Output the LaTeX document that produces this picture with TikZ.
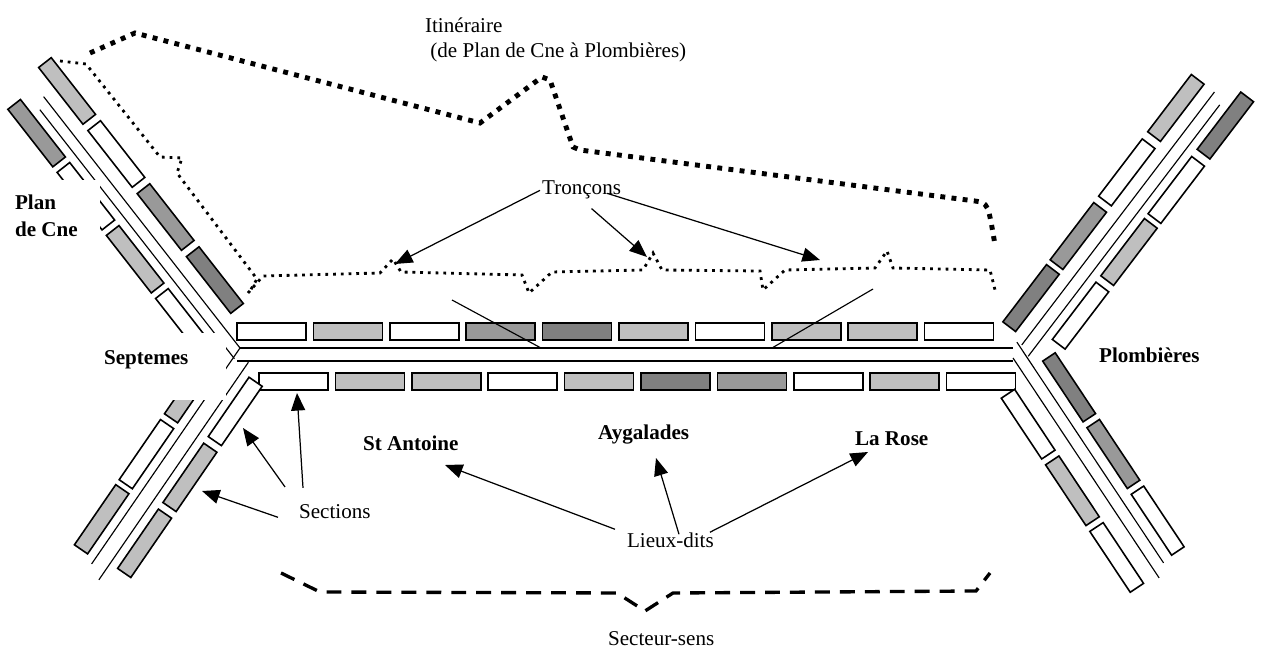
\documentclass[tikz,border=0pt]{standalone}
\usepackage{fontspec}
\setmainfont{Liberation Serif}
\usetikzlibrary{arrows.meta}
\definecolor{lightsec}{gray}{0.75}
\definecolor{midsec}{gray}{0.6}
\definecolor{darksec}{gray}{0.5}
\begin{document}
\begin{tikzpicture}[x=0.02cm,y=-0.02cm,
    road/.style={line width=0.65pt},
    secbox/.style={draw,line width=0.9pt},
    lbl/.style={font=\fontsize{12}{14}\selectfont,inner sep=1pt},
    townlbl/.style={font=\fontsize{12}{15.4}\selectfont\bfseries,inner sep=1pt},
    arr/.style={line width=0.7pt,-{Triangle[length=10pt,width=8pt]}},
    itin/.style={line width=2.8pt,dash pattern=on 2.8pt off 3.6pt},
    tron/.style={line width=1.6pt,dash pattern=on 1.6pt off 2.8pt},
    sect/.style={line width=1.9pt,dash pattern=on 8.5pt off 5.7pt}]
    \useasboundingbox (0,0) rectangle (1264,648);
    % main road and its two rows of sections
    \draw[road] (240,348) -- (1013,348);
    \draw[road] (237,361) -- (1013,361);
    \foreach \c [count=\i from 0] in {white,lightsec,white,midsec,darksec,lightsec,white,lightsec,lightsec,white}
        \draw[secbox,fill=\c] (237+76.4*\i,323) rectangle ++(69,17);
    \foreach \c [count=\i from 0] in {white,lightsec,lightsec,white,lightsec,darksec,midsec,white,lightsec,white}
        \draw[secbox,fill=\c] (259+76.4*\i,373) rectangle ++(69,17);
    \draw[road] (452,300) -- (541,348);
    \draw[road] (873,289) -- (772,348);
    % branch to Plan de Cne
    \begin{scope}[shift={(240,348)},rotate=128]
        \draw[road] (0,0) -- (319,0);
        \draw[road] (-5,-11) -- (311,-11);
        \foreach \s/\c in {33/darksec,113/midsec,193/white,273/lightsec}
            \draw[secbox,fill=\c] (\s,14) rectangle ++(72,16);
        \foreach \s/\c in {18/white,98/lightsec,178/white,258/midsec}
            \draw[secbox,fill=\c] (\s,-20) rectangle ++(73,-16);
    \end{scope}
    % branch to Septemes
    \begin{scope}[shift={(240,348)},rotate=235.5]
        \draw[road] (0,0) -- (262,0);
        \draw[road] (7,-15) -- (271,-15);
        \foreach \s/\c in {24/lightsec,104/white,183/lightsec}
            \draw[secbox,fill=\c] (\s,9) rectangle ++(73,16);
        \foreach \s/\c in {19/white,99/lightsec,179/lightsec}
            \draw[secbox,fill=\c] (\s,-24) rectangle ++(72,-16);
    \end{scope}
    % branches to Plombieres
    \begin{scope}[shift={(1021.7,345)},rotate=52.7]
        \draw[road] (0,0) -- (318,0);
        \draw[road] (-5,12) -- (311,12);
        \foreach \s/\c in {7/darksec,85/midsec,165/white,246/lightsec}
            \draw[secbox,fill=\c] (\s,-13) rectangle ++(72,-16);
        \foreach \s/\c in {23/white,103/lightsec,181/white,262/darksec}
            \draw[secbox,fill=\c] (\s,21) rectangle ++(72,16);
    \end{scope}
    \begin{scope}[shift={(1013,358)},rotate=-56.4]
        \draw[road] (0,0) -- (264,0);
        \draw[road] (-11,-12) -- (254,-12);
        \foreach \s/\c in {19/darksec,99/midsec,179/white}
            \draw[secbox,fill=\c] (\s,-23) rectangle ++(73,-15);
        \foreach \s/\c in {27/white,107/lightsec,187/white}
            \draw[secbox,fill=\c] (\s,16) rectangle ++(73,16);
    \end{scope}
    % white frames behind the town names
    \fill[white] (0,180) rectangle (100,245);
    \fill[white] (85,333) rectangle (226,400);
    % itineraire, troncons, secteur-sens
    \draw[itin] (90,53) -- (135,33) -- (480,123) -- (542,77) -- (550,80) -- (573,147) -- (580,150) -- (975,201) .. controls (988,203) .. (995,245);
    \draw[tron] (60,61) -- (86,64) -- (160,157) -- (182,158) -- (177,173) -- (257,279) -- (250,291);
    \draw[tron] (248,293) -- (263,276) -- (380,273) -- (393,259) -- (401,272) -- (522,275) -- (529,293) -- (552,272) -- (643,270) -- (653,253) -- (662,270) -- (760,271) -- (763,290) -- (785,270) -- (875,268) -- (887,251) -- (893,268) -- (990,270) -- (995,290);
    \draw[sect] (281,573) -- (320,592) -- (617,593) -- (645,611) -- (673,593) -- (976,591) -- (990,573);
    % labels
    \node[lbl,anchor=west,align=left] (itineraire) at (423,40) {Itinéraire\\~(de Plan de Cne à Plombières)};
    \node[lbl,anchor=base west] (troncons) at (540,195) {Tronçons};
    \node[lbl,anchor=base west] (sections) at (297,518) {Sections};
    \node[lbl,anchor=base west] (lieux) at (625,547) {Lieux-dits};
    \node[lbl,anchor=base west] (secteur) at (606,645) {Secteur-sens};
    \node[townlbl,anchor=west,align=left] (plan) at (13,216) {Plan\\de Cne};
    \node[townlbl,anchor=base west] (septemes) at (102,364) {Septemes};
    \node[townlbl,anchor=base west] (plomb) at (1097,362) {Plombières};
    \node[townlbl,anchor=base west] (antoine) at (361,450) {St Antoine};
    \node[townlbl,anchor=base west] (aygal) at (596,439) {Aygalades};
    \node[townlbl,anchor=base west] (rose) at (853,445) {La Rose};
    % arrows
    \coordinate (t1) at (395,264);
    \coordinate (t2) at (647,257);
    \coordinate (t3) at (820,260);
    \draw[arr] (troncons.west) -- (t1);
    \draw[arr] ([shift={(10,7)}]troncons.south) -- (t2);
    \draw[arr] ([shift={(-16,3)}]troncons.east) -- (t3);
    \coordinate (s1) at (297,393);
    \coordinate (s2) at (243,428);
    \coordinate (s3) at (202,491);
    \draw[arr] ([shift={(6,-14)}]sections.north west) -- (s1);
    \draw[arr] ([shift={(-12,-15)}]sections.north west) -- (s2);
    \draw[arr] ([shift={(-19,-3)}]sections.south west) -- (s3);
    \coordinate (l1) at (445,465);
    \coordinate (l2) at (656,458);
    \coordinate (l3) at (868,452);
    \draw[arr] ([shift={(-10,-1)}]lieux.north west) -- (l1);
    \draw[arr] ([shift={(54,4)}]lieux.north west) -- (l2);
    \draw[arr] ([shift={(-6,2)}]lieux.north east) -- (l3);
\end{tikzpicture}
\end{document}
